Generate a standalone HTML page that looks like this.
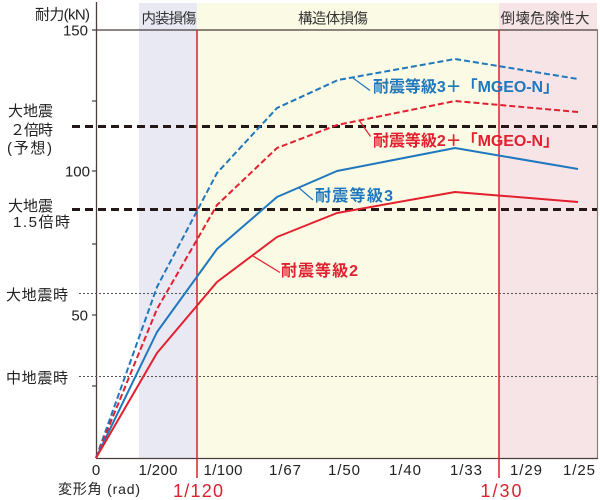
<!DOCTYPE html>
<html><head><meta charset="utf-8"><style>
html,body{margin:0;padding:0;background:#fff;}
svg{display:block;}
text{font-family:"Liberation Sans","Noto Sans CJK JP",sans-serif;}
</style></head><body>
<svg width="600" height="500" viewBox="0 0 600 500" xmlns="http://www.w3.org/2000/svg">
<!-- region backgrounds -->
<rect x="139" y="3" width="58" height="455" fill="#e9e9f4"/>
<rect x="197" y="3" width="302" height="455" fill="#fbfae4"/>
<rect x="499" y="3" width="98" height="455" fill="#f7e4e7"/>
<!-- header labels -->
<g font-size="14.5" fill="#333">
<text x="169" y="23.5" text-anchor="middle" textLength="55">内装損傷</text>
<text x="333" y="23.5" text-anchor="middle" textLength="70">構造体損傷</text>
<text x="545" y="23.5" text-anchor="middle" textLength="89">倒壊危険性大</text>
</g>
<!-- frame -->
<line x1="92" y1="30" x2="598" y2="30" stroke="#4a3f3b" stroke-width="1.2"/>
<line x1="597.5" y1="30" x2="597.5" y2="458" stroke="#8a8080" stroke-width="1.2"/>
<line x1="96.5" y1="2" x2="96.5" y2="458.5" stroke="#4a3f3b" stroke-width="1.3"/>
<line x1="96" y1="458.5" x2="598" y2="458.5" stroke="#4a3f3b" stroke-width="1.3"/>
<!-- y ticks -->
<g stroke="#4a3f3b" stroke-width="1.2">
<line x1="92" y1="171" x2="96" y2="171"/>
<line x1="92" y1="315" x2="96" y2="315"/>
<line x1="92" y1="101" x2="96" y2="101"/>
<line x1="92" y1="244" x2="96" y2="244"/>
<line x1="92" y1="386" x2="96" y2="386"/>
</g>
<!-- reference lines -->
<g stroke="#231815" stroke-width="3" stroke-dasharray="8 5">
<line x1="72" y1="126.5" x2="597" y2="126.5"/>
<line x1="72" y1="209.5" x2="597" y2="209.5"/>
</g>
<g stroke="#555" stroke-width="1" stroke-dasharray="2 2">
<line x1="79" y1="293.5" x2="597" y2="293.5"/>
<line x1="79" y1="376.5" x2="597" y2="376.5"/>
</g>
<!-- red verticals -->
<line x1="197" y1="30" x2="197" y2="478" stroke="#d9222f" stroke-width="1.5"/>
<line x1="499" y1="30" x2="499" y2="478" stroke="#d9222f" stroke-width="1.5"/>
<!-- series -->
<g fill="none" stroke-width="2" stroke-linejoin="round">
<polyline points="96,458 157,287 217,173 277,108 338,80 455,59 578,79" stroke="#1f78be" stroke-dasharray="6 3"/>
<polyline points="96,458 157,309 217,205 277,148 337,125 455,101 578,112" stroke="#e2202f" stroke-dasharray="6 3"/>
<polyline points="96,458 157,332 217,249 277,197 337,171 455,148 578,169" stroke="#1f78be"/>
<polyline points="96,458 157,353 217,282 277,237 337,213 455,192 578,202" stroke="#e2202f"/>
</g>
<!-- leaders -->
<g stroke-width="1.2">
<line x1="353" y1="78" x2="370" y2="90.5" stroke="#1f78be"/>
<line x1="359" y1="120" x2="370.5" y2="136.5" stroke="#e2202f"/>
<line x1="298" y1="187" x2="313" y2="200" stroke="#1f78be"/>
<line x1="253" y1="256" x2="280" y2="272.5" stroke="#e2202f"/>
</g>
<!-- series labels -->
<g font-size="16" font-weight="bold">
<text x="373" y="92" fill="#1f78be" textLength="186">耐震等級3＋「MGEO-N」</text>
<text x="373" y="146" fill="#e2202f" textLength="186">耐震等級2＋「MGEO-N」</text>
<text x="315" y="201" fill="#1f78be" textLength="78">耐震等級3</text>
<text x="281" y="276" fill="#e2202f" textLength="77">耐震等級2</text>
</g>
<!-- left labels -->
<g font-size="15" fill="#222">
<text x="35" y="19.5" textLength="55">耐力(kN)</text>
<text x="88" y="35.5" text-anchor="end">150</text>
<text x="90" y="176.5" text-anchor="end">100</text>
<text x="88" y="320.5" text-anchor="end">50</text>
<text x="8" y="116" textLength="45">大地震</text>
<text x="10" y="135" textLength="43">２倍時</text>
<text x="7" y="153" textLength="45">(予想)</text>
<text x="8" y="211" textLength="45">大地震</text>
<text x="13" y="227" textLength="57">1.5倍時</text>
<text x="6" y="300" textLength="62">大地震時</text>
<text x="6" y="383" textLength="62">中地震時</text>
</g>
<!-- x tick labels -->
<g font-size="15" fill="#222" text-anchor="middle">
<text x="96" y="475">0</text>
<text x="158" y="475" textLength="39">1/200</text>
<text x="223" y="475" textLength="39">1/100</text>
<text x="285" y="475" textLength="32">1/67</text>
<text x="344" y="475" textLength="32">1/50</text>
<text x="405" y="475" textLength="32">1/40</text>
<text x="466" y="475" textLength="32">1/33</text>
<text x="526" y="475" textLength="32">1/29</text>
<text x="579" y="475" textLength="32">1/25</text>
</g>
<text x="58" y="494" font-size="14" fill="#222" textLength="82">変形角 (rad)</text>
<g font-size="18" fill="#d9222f" text-anchor="middle">
<text x="198" y="497" textLength="50">1/120</text>
<text x="501" y="497" textLength="41">1/30</text>
</g>
</svg>
</body></html>
